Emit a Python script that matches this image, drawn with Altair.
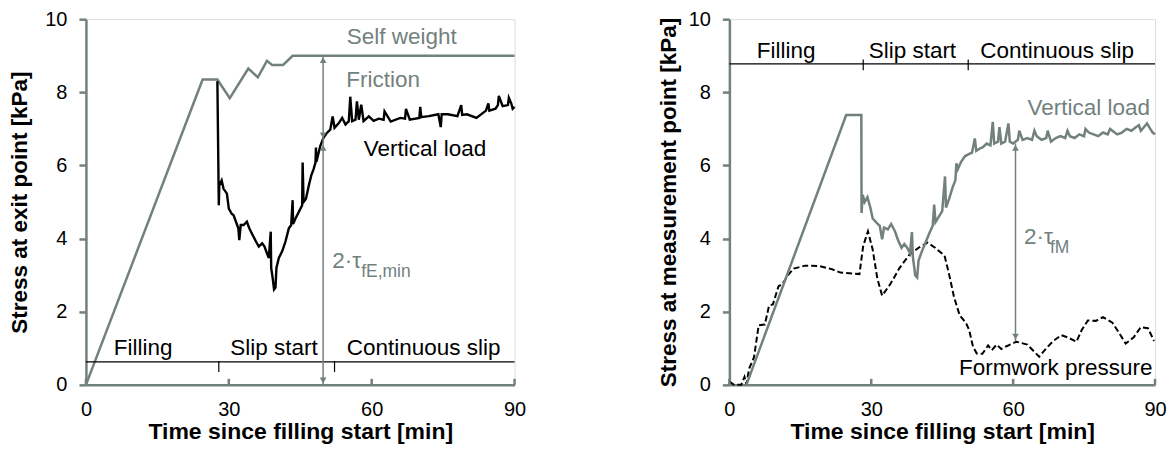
import altair as alt
import pandas as pd

GRAY = "#72817e"
FONT = "Liberation Sans"
W_LEFT, W_RIGHT, H = 429, 426, 366

# ---------------- Left panel: stress at exit point ----------------
sw_t = [0, 24.5, 27.6, 30.2, 34.1, 36.1, 38.0, 39.1, 41.4, 43.4, 90]
sw_v = [0, 8.35, 8.35, 7.84, 8.65, 8.41, 8.86, 8.75, 8.75, 9.0, 9.0]

vl_t = [27.6, 27.9, 28.0, 28.5, 28.9, 29.6, 30.0, 30.6, 31.0, 31.5, 32.0, 32.2, 32.5,
        33.1, 33.8, 34.3, 35.0, 35.7, 36.3, 37.0, 37.5, 38.0, 38.4, 38.8, 38.9, 39.2,
        39.5, 39.8, 40.0, 40.5, 41.2, 41.9, 42.6, 43.1, 43.4, 43.5, 44.0, 44.7, 45.4,
        45.5, 45.7, 46.2, 46.8, 47.3, 47.8, 48.2, 48.3, 48.4, 48.7, 49.2, 49.9, 50.6,
        51.3, 51.8, 52.2, 53.1, 53.8, 54.5, 55.2, 55.5, 55.9, 56.6, 56.9, 57.3, 57.8,
        58.3, 59.4, 60.4, 61.5, 62.5, 62.7, 64.0, 66.0, 67.0, 67.2, 68.0, 70.0, 70.2,
        70.4, 72.0, 74.0, 74.5, 74.7, 76.0, 78.0, 78.8, 79.0, 80.0, 82.0, 84.0, 84.5,
        84.7, 86.0, 86.5, 86.7, 87.5, 88.6, 88.8, 89.3, 89.6, 90.0]
vl_v = [8.30, 4.91, 5.45, 5.59, 5.36, 5.23, 4.82, 4.68, 4.64, 4.46, 4.28, 3.96, 4.37,
        4.37, 4.46, 4.28, 4.10, 3.92, 3.78, 3.87, 3.78, 3.60, 3.47, 4.19, 3.20, 2.93,
        2.61, 2.66, 3.20, 3.47, 3.65, 3.92, 4.28, 4.37, 5.05, 4.40, 4.55, 4.73, 4.91,
        6.08, 5.00, 5.09, 5.45, 5.72, 5.90, 6.08, 6.49, 6.10, 6.26, 6.53, 6.76, 6.89,
        6.98, 7.34, 7.03, 7.16, 7.30, 7.12, 7.21, 7.88, 7.21, 7.25, 7.75, 7.25, 7.66,
        7.21, 7.34, 7.22, 7.28, 7.25, 7.48, 7.20, 7.30, 7.28, 7.55, 7.25, 7.30, 7.60,
        7.32, 7.35, 7.40, 7.05, 7.40, 7.40, 7.35, 7.65, 7.38, 7.40, 7.30, 7.50, 7.70,
        7.50, 7.55, 7.65, 7.90, 7.62, 7.65, 7.85, 7.70, 7.55, 7.60]

# ---------------- Right panel: stress at measurement point ----------------
rv_t = [3.6, 24.7, 27.9, 27.95, 28.2, 28.6, 29.2, 29.8, 30.3, 31.0, 31.8, 32.3, 32.7,
        33.5, 34.2, 35.0, 35.7, 36.4, 37.0, 37.6, 38.2, 38.6, 38.8, 39.3, 39.7, 40.0,
        40.7, 41.5, 42.3, 43.0, 43.3, 43.6, 44.3, 45.0, 45.6, 45.8, 46.5, 47.2, 47.8,
        48.0, 48.3, 49.0, 49.8, 50.5, 51.3, 51.9, 52.2, 52.8, 53.6, 54.4, 55.2, 55.7,
        56.0, 56.8, 57.1, 57.5, 58.3, 59.0, 59.3, 60.0, 61.0, 61.3, 62.0, 63.0, 64.0,
        64.5, 65.0, 66.0, 67.0, 67.3, 68.0, 69.0, 70.0, 71.0, 71.5, 72.0, 73.0, 74.0,
        75.0, 75.3, 76.0, 77.0, 78.0, 79.0, 80.0, 80.5, 81.0, 82.0, 83.0, 84.0, 85.0,
        86.0, 86.6, 87.0, 88.0, 88.3, 89.0, 89.5, 90.0]
rv_v = [0.0, 7.38, 7.38, 4.70, 5.20, 5.00, 5.13, 4.85, 4.55, 4.45, 4.35, 3.98, 4.30,
        4.25, 4.40, 4.20, 3.95, 3.75, 3.85, 3.75, 3.60, 4.18, 3.50, 3.00, 2.94, 3.40,
        3.65, 3.90, 4.15, 4.35, 4.93, 4.45, 4.60, 4.75, 5.70, 4.85, 5.10, 5.40, 5.60,
        6.06, 5.90, 6.10, 6.25, 6.30, 6.35, 6.74, 6.40, 6.45, 6.50, 6.60, 6.55, 7.19,
        6.60, 6.65, 7.05, 6.60, 6.65, 7.15, 6.65, 6.60, 6.70, 6.95, 6.70, 6.75, 6.70,
        6.95, 6.80, 6.70, 6.75, 6.95, 6.65, 6.75, 6.80, 6.75, 6.95, 6.80, 6.75, 6.85,
        6.80, 7.00, 6.90, 6.85, 6.80, 6.90, 6.85, 7.00, 6.95, 6.85, 6.90, 7.00, 6.95,
        7.05, 7.10, 6.95, 7.10, 7.15, 7.00, 6.90, 6.85]

fp_t = [0, 1.0, 2.5, 3.2, 3.6, 4.2, 5.2, 6.2, 7.5, 8.4, 9.2, 10.4, 11.2, 12.4, 13.6,
        16.0, 19.0, 21.5, 23.5, 27.5, 28.3, 29.3, 30.3, 31.3, 32.3, 34.0, 36.0, 38.0,
        40.0, 41.9, 43.5, 45.5, 46.5, 47.5, 48.7, 50.0, 50.7, 51.5, 52.3, 53.5, 54.7,
        55.5, 56.5, 57.5, 58.5, 60.7, 63.0, 65.5, 67.0, 68.5, 70.2, 71.5, 73.4, 74.5,
        75.8, 77.5, 79.0, 81.0, 82.5, 83.8, 85.5, 87.0, 88.5, 89.8]
fp_v = [0.09, 0.0, 0.0, 0.22, 0.02, 0.45, 0.75, 1.63, 1.65, 2.17, 2.20, 2.70, 2.75,
        3.00, 3.18, 3.26, 3.25, 3.17, 3.07, 3.03, 3.80, 4.20, 3.70, 2.90, 2.44, 2.75,
        3.20, 3.55, 3.75, 3.89, 3.75, 3.53, 3.00, 2.40, 1.90, 1.70, 1.50, 1.05, 0.86,
        0.85, 1.08, 0.95, 1.10, 0.98, 1.05, 1.18, 1.10, 0.77, 1.00, 1.20, 1.36, 1.30,
        1.18, 1.50, 1.76, 1.75, 1.85, 1.70, 1.40, 1.13, 1.30, 1.58, 1.55, 1.20]

# ---------------- Annotations ----------------
phase_labels = ["Filling", "Slip start", "Continuous slip"]
left_phase_x = [12.0, 39.5, 70.9]
left_phase_y = 1.0
left_phase_line = 0.63
left_phase_bounds = [27.9, 52.2]
right_phase_x = [12.0, 38.7, 69.3]
right_phase_y = 9.14
right_phase_line = 8.78
right_phase_bounds = [28.3, 50.5]

x_ticks = [0, 30, 60, 90]
y_ticks = [0, 2, 4, 6, 8, 10]

XS = alt.Scale(domain=[0, 90], nice=False, zero=False)
YS = alt.Scale(domain=[0, 10], nice=False)


def x_axis():
    return alt.Axis(values=x_ticks, title="Time since filling start [min]", ticks=False,
                    grid=False, labelFontSize=20, labelPadding=15, labelFont=FONT,
                    labelColor="black", titleFont=FONT, titleFontSize=23,
                    titleFontWeight="bold", titleColor="black", titlePadding=1,
                    domainColor=GRAY, domainWidth=2.5, labelFlush=False)


def y_axis(title, pad):
    return alt.Axis(values=y_ticks, title=title, grid=False, tickSize=7, tickColor=GRAY,
                    tickWidth=2.5, labelFontSize=20, labelPadding=12, labelFont=FONT,
                    labelColor="black", titleFont=FONT, titleFontSize=22.5,
                    titleFontWeight="bold", titleColor="black", titlePadding=pad,
                    domainColor=GRAY, domainWidth=2.5, labelFlush=False)


def enc(ytitle, pad):
    return dict(x=alt.X("t:Q", scale=XS, axis=x_axis()),
                y=alt.Y("v:Q", scale=YS, axis=y_axis(ytitle, pad)))


def line_df(ts, vs):
    return pd.DataFrame({"t": ts, "v": vs, "i": list(range(len(ts)))})


def text_layer(df, e, **kw):
    return alt.Chart(df).mark_text(font=FONT, **kw).encode(text="label:N", **e)


def panel(ytitle, pad, layers_fn, w, h):
    e = enc(ytitle, pad)
    return alt.layer(*layers_fn(e)).properties(width=w, height=h)


def ticks_inward(e):
    return alt.Chart(pd.DataFrame({"t": x_ticks})).mark_rule(
        color=GRAY, strokeWidth=2.5).encode(x=e["x"], y=alt.value(H), y2=alt.value(H - 6))


def phase_layers(e, xs, ly, line_y, bounds, tick_lo, tick_hi):
    lab = pd.DataFrame({"t": xs, "v": [ly] * 3, "label": phase_labels})
    ln = pd.DataFrame({"t": [0], "t2": [90], "v": [line_y]})
    tk = pd.DataFrame({"t": bounds, "v": [tick_lo] * 2, "v2": [tick_hi] * 2})
    return [
        alt.Chart(ln).mark_rule(color="black", strokeWidth=1.2).encode(
            x=e["x"], x2="t2:Q", y=e["y"]),
        alt.Chart(tk).mark_rule(color="black", strokeWidth=1.2).encode(
            x=e["x"], y=e["y"], y2="v2:Q"),
        text_layer(lab, e, fontSize=22.5, color="black", align="center", baseline="middle"),
    ]


def arrow_layers(e, x, v_top, v_bot, up_at, down_at):
    shaft = pd.DataFrame({"t": [x], "v": [v_top], "v2": [v_bot]})
    ups = pd.DataFrame({"t": [x] * len(up_at), "v": up_at})
    downs = pd.DataFrame({"t": [x] * len(down_at), "v": down_at})
    return [
        alt.Chart(shaft).mark_rule(color=GRAY, strokeWidth=1.5).encode(
            x=e["x"], y=e["y"], y2="v2:Q"),
        alt.Chart(ups).mark_point(shape="triangle-up", filled=True, size=45, color=GRAY,
                                  opacity=1).encode(x=e["x"], y=e["y"]),
        alt.Chart(downs).mark_point(shape="triangle-down", filled=True, size=45, color=GRAY,
                                    opacity=1).encode(x=e["x"], y=e["y"]),
    ]


def left_layers(e):
    layers = [
        alt.Chart(line_df(sw_t, sw_v)).mark_line(color=GRAY, strokeWidth=2.5).encode(
            order="i:Q", **e),
        alt.Chart(line_df(vl_t, vl_v)).mark_line(color="black", strokeWidth=2.4).encode(
            order="i:Q", **e),
        ticks_inward(e),
    ]
    layers += phase_layers(e, left_phase_x, left_phase_y, left_phase_line,
                           left_phase_bounds, 0.35, 0.65)
    layers += arrow_layers(e, 49.8, 9.0, 0.0, [8.88, 6.48], [6.82, 0.12])
    g = pd.DataFrame({"t": [66.3, 62.4], "v": [9.5, 8.35], "label": ["Self weight", "Friction"]})
    b = pd.DataFrame({"t": [71.2], "v": [6.45], "label": ["Vertical load"]})
    tau = pd.DataFrame({"t": [51.7], "v": [3.39], "label": ["2·τ"]})
    sub = pd.DataFrame({"t": [57.8], "v": [3.08], "label": ["fE,min"]})
    layers += [
        text_layer(g, e, fontSize=22.5, color=GRAY, align="center", baseline="middle"),
        text_layer(b, e, fontSize=22.5, color="black", align="center", baseline="middle"),
        text_layer(tau, e, fontSize=22.5, color=GRAY, align="left", baseline="middle"),
        text_layer(sub, e, fontSize=17.5, color=GRAY, align="left", baseline="middle"),
    ]
    return layers


def right_layers(e):
    layers = [
        alt.Chart(line_df(fp_t, fp_v)).mark_line(color="black", strokeWidth=2,
                                                 strokeDash=[6, 3]).encode(order="i:Q", **e),
        alt.Chart(line_df(rv_t, rv_v)).mark_line(color=GRAY, strokeWidth=2.5).encode(
            order="i:Q", **e),
        ticks_inward(e),
    ]
    layers += phase_layers(e, right_phase_x, right_phase_y, right_phase_line,
                           right_phase_bounds, 8.6, 8.9)
    layers += arrow_layers(e, 60.5, 6.6, 1.2, [6.48], [1.32])
    g = pd.DataFrame({"t": [76.0], "v": [7.56], "label": ["Vertical load"]})
    b = pd.DataFrame({"t": [69.0], "v": [0.45], "label": ["Formwork pressure"]})
    tau = pd.DataFrame({"t": [62.3], "v": [4.03], "label": ["2·τ"]})
    sub = pd.DataFrame({"t": [67.8], "v": [3.74], "label": ["fM"]})
    layers += [
        text_layer(g, e, fontSize=22.5, color=GRAY, align="center", baseline="middle"),
        text_layer(b, e, fontSize=22.5, color="black", align="center", baseline="middle"),
        text_layer(tau, e, fontSize=22.5, color=GRAY, align="left", baseline="middle"),
        text_layer(sub, e, fontSize=17.5, color=GRAY, align="left", baseline="middle"),
    ]
    return layers


left = panel("Stress at exit point [kPa]", 13, left_layers, W_LEFT, H)
right = panel("Stress at measurement point [kPa]", 8, right_layers, W_RIGHT, H)

chart = alt.hconcat(left, right, spacing=130).properties(
    padding={"left": 0, "top": 0, "right": 0, "bottom": 0}
).configure_view(stroke=GRAY, strokeWidth=2.5).configure(background="white")

chart.save("out.html", embed_options={"renderer": "svg", "actions": False})
